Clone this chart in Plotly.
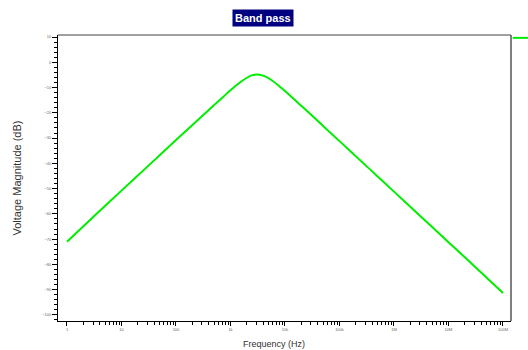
import plotly.graph_objects as go

# Data (frequency in Hz, magnitude in dB)
freq_hz = [1, 3.162, 10, 31.62, 100, 316.2, 421.7, 562.3, 749.9, 1000, 1334, 1778,
           2371, 3162, 4217, 5623, 7499, 10000, 13340, 17780, 23710, 31620,
           100000, 316200, 1e6, 3.162e6, 1e7, 3.162e7, 1e8]
magnitude_db = [-71.0, -60.8, -50.8, -40.8, -30.8, -20.9, -18.4, -15.9, -13.5, -11.1,
                -8.8, -6.8, -5.3, -4.8, -5.5, -7.0, -9.1, -11.4, -13.8, -16.3, -18.7,
                -21.2, -31.2, -41.2, -51.2, -61.2, -71.2, -81.2, -91.3]

x_tick_vals = [1, 10, 100, 1e3, 1e4, 1e5, 1e6, 1e7, 1e8]
x_tick_text = ["1", "10", "100", "1k", "10k", "100k", "1M", "10M", "100M"]
x_minor_vals = [m * 10 ** k for k in range(0, 8) for m in range(2, 10)]

W, H = 528, 350
L, R, T, B = 58, 17, 35, 29

fig = go.Figure()
fig.add_trace(go.Scatter(
    x=freq_hz, y=magnitude_db, mode="lines", name="V(out)",
    line=dict(color="#00ee00", width=2, shape="spline", smoothing=0.6),
    showlegend=False,
))

fig.update_layout(
    width=W, height=H,
    margin=dict(l=L, r=R, t=T, b=B, pad=0),
    paper_bgcolor="white", plot_bgcolor="white",
    font=dict(family="Liberation Sans, Arial, sans-serif", color="#333333"),
    xaxis=dict(
        type="log", range=[-0.165, 8.147],
        tickvals=x_tick_vals, ticktext=x_tick_text,
        tickfont=dict(size=4, color="#666666"),
        ticks="outside", ticklen=4, tickwidth=1, tickcolor="black",
        showline=True, linecolor="black", linewidth=1,
        showgrid=False, zeroline=False,
        minor=dict(tickvals=x_minor_vals, ticks="outside", ticklen=3,
                   tickcolor="black", showgrid=False),
    ),
    yaxis=dict(
        range=[-102.4, 10.8], dtick=10, tick0=0,
        tickfont=dict(size=4, color="#666666"),
        ticks="outside", ticklen=5, tickwidth=1, tickcolor="black",
        showline=True, linecolor="black", linewidth=1,
        showgrid=False, zeroline=False,
        minor=dict(dtick=2, ticks="outside", ticklen=3, tickcolor="black",
                   showgrid=False),
        title=dict(text="Voltage Magnitude (dB)", font=dict(size=11, color="#333333"),
                   standoff=18),
    ),
    shapes=[
        dict(type="line", xref="paper", yref="paper", x0=0, x1=1, y0=1, y1=1,
             line=dict(color="#808080", width=1.5)),
        dict(type="line", xref="paper", yref="paper", x0=1, x1=1, y0=0, y1=1,
             line=dict(color="#555555", width=1.5)),
        dict(type="line", xref="paper", yref="paper",
             x0=1.004, x1=1.04, y0=0.99, y1=0.99,
             line=dict(color="#00ee00", width=2)),
    ],
    annotations=[
        dict(text="<b>Band pass</b>", xref="paper", yref="paper",
             x=(262.5 - L) / (W - L - R), y=1 + (T - 18) / (H - T - B),
             xanchor="center", yanchor="middle", showarrow=False,
             font=dict(size=11, color="white"),
             bgcolor="#000080", borderpad=2),
        dict(text="Frequency (Hz)", xref="paper", yref="paper",
             x=(274 - L) / (W - L - R), y=-(344 - (H - B)) / (H - T - B),
             xanchor="center", yanchor="middle", showarrow=False,
             font=dict(size=9, color="#333333")),
    ],
)

fig.write_html("out.html")
